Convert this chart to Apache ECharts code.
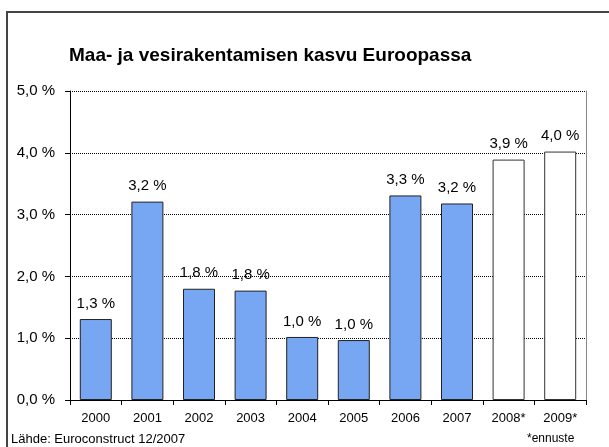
<!DOCTYPE html>
<html>
<head>
<meta charset="utf-8">
<script src="https://cdn.jsdelivr.net/npm/echarts@6/dist/echarts.min.js"></script>
<style>
  html, body { margin: 0; padding: 0; background: #fff; }
  #chart { width: 609px; height: 447px; }
</style>
</head>
<body>
<div id="chart"></div>
<script>
var years = ['2000', '2001', '2002', '2003', '2004', '2005', '2006', '2007', '2008*', '2009*']
var growth = [1.31, 3.21, 1.80, 1.77, 1.02, 0.97, 3.31, 3.18, 3.89, 4.02]
var forecastYears = ['2008*', '2009*']
var yTicks = [0, 1, 2, 3, 4, 5]

var fmt = function (v) { return v.toFixed(1).replace('.', ',') + ' %' }

var chart = echarts.init(document.getElementById('chart'))

chart.setOption({
  animation: false,
  textStyle: { fontFamily: 'Liberation Sans, Arial, sans-serif' },
  graphic: [
    {
      type: 'rect',
      shape: { x: 7, y: 12, width: 640, height: 480 },
      style: { fill: 'none', stroke: '#444', lineWidth: 2 }
    },
    {
      type: 'text',
      left: 11,
      top: 433,
      style: { text: 'Lähde: Euroconstruct 12/2007', fontSize: 13, fill: '#000', fontFamily: 'Liberation Sans, Arial' }
    },
    {
      type: 'text',
      left: 527,
      top: 433,
      style: { text: '*ennuste', fontSize: 12, fill: '#000', fontFamily: 'Liberation Sans, Arial' }
    }
  ],
  title: {
    text: 'Maa- ja vesirakentamisen kasvu Euroopassa',
    left: 64,
    top: 41,
    textStyle: { fontSize: 19, fontWeight: 'bold', color: '#000', fontFamily: 'Liberation Sans, Arial' }
  },
  grid: { left: 70, right: 23, top: 91, bottom: 47, containLabel: false },
  xAxis: {
    type: 'category',
    data: years,
    axisLine: { lineStyle: { color: '#000', width: 1 } },
    axisTick: { show: true, length: 5, lineStyle: { color: '#000' } },
    axisLabel: { color: '#000', fontSize: 13, margin: 12 }
  },
  yAxis: [
    {
      type: 'value',
      min: yTicks[0],
      max: yTicks[yTicks.length - 1],
      interval: 1,
      axisLine: { show: true, lineStyle: { color: '#000', width: 1 } },
      axisTick: { show: true, length: 5, lineStyle: { color: '#000' } },
      axisLabel: { color: '#000', fontSize: 15, margin: 15, formatter: fmt },
      splitLine: { lineStyle: { color: '#000', type: 'dotted', width: 1 } }
    },
    {
      type: 'value',
      position: 'right',
      min: 0,
      max: 5,
      interval: 1,
      axisLine: { show: true, lineStyle: { color: '#888', width: 1 } },
      axisTick: { show: false },
      axisLabel: { show: false },
      splitLine: { show: false }
    }
  ],
  series: [{
    type: 'bar',
    barWidth: 32,
    data: growth.map(function (v, i) {
      var forecast = forecastYears.indexOf(years[i]) >= 0
      return {
        value: v,
        itemStyle: forecast
          ? { color: '#fff', borderColor: '#333', borderWidth: 1 }
          : { color: '#77a7f2', borderColor: '#222', borderWidth: 1 }
      }
    }),
    label: {
      show: true,
      position: 'top',
      distance: 8,
      color: '#000',
      fontSize: 15,
      formatter: function (p) { return fmt(p.value) }
    }
  }]
})
</script>
</body>
</html>
